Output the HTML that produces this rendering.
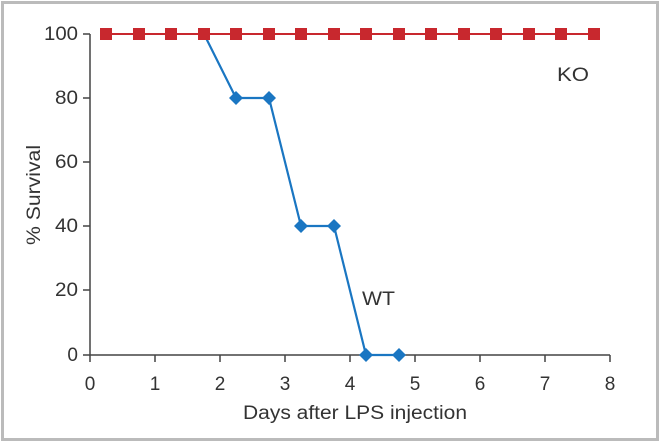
<!DOCTYPE html>
<html><head><meta charset="utf-8"><style>body{margin:0;background:#fff}svg{display:block}text{font-family:"Liberation Sans",Arial,sans-serif;fill:#333}</style></head><body>
<svg width="661" height="444" xmlns="http://www.w3.org/2000/svg">
<rect x="2.5" y="2.5" width="655" height="437" fill="#fff" stroke="#bbb" stroke-width="3"/>
<g stroke="#444" stroke-width="1.5" fill="none">
<path d="M90,34V355H610"/>
<path d="M83,34H90M83,98H90M83,162H90M83,226H90M83,290H90M83,355H90"/>
<path d="M90,355V362M155,355V362M220,355V362M285,355V362M350,355V362M415,355V362M480,355V362M545,355V362M610,355V362"/>
</g>
<g font-size="19" text-anchor="end">
<text x="78" y="40" textLength="34" lengthAdjust="spacingAndGlyphs">100</text><text x="78" y="104" textLength="23" lengthAdjust="spacingAndGlyphs">80</text><text x="78" y="168" textLength="23" lengthAdjust="spacingAndGlyphs">60</text><text x="78" y="232" textLength="23" lengthAdjust="spacingAndGlyphs">40</text><text x="78" y="296" textLength="23" lengthAdjust="spacingAndGlyphs">20</text><text x="78" y="361">0</text>
</g>
<g font-size="19" text-anchor="middle">
<text x="90" y="390">0</text><text x="155" y="390">1</text><text x="220" y="390">2</text><text x="285" y="390">3</text><text x="350" y="390">4</text><text x="415" y="390">5</text><text x="480" y="390">6</text><text x="545" y="390">7</text><text x="610" y="390">8</text>
<text x="355" y="419" textLength="224" lengthAdjust="spacingAndGlyphs">Days after LPS injection</text>
<text transform="translate(40,195) rotate(-90)" textLength="100" lengthAdjust="spacingAndGlyphs">% Survival</text>
</g>
<text x="557" y="81" font-size="19" textLength="32" lengthAdjust="spacingAndGlyphs">KO</text>
<text x="362" y="305" font-size="19" textLength="33" lengthAdjust="spacingAndGlyphs">WT</text>
<polyline points="204,34 236,98 269,98 301,226 334,226 366,355 399,355" fill="none" stroke="#1a76c2" stroke-width="2.2"/>
<g fill="#1a76c2">
<path d="M236,91l7,7l-7,7l-7-7z"/><path d="M269,91l7,7l-7,7l-7-7z"/><path d="M301,219l7,7l-7,7l-7-7z"/><path d="M334,219l7,7l-7,7l-7-7z"/><path d="M366,348l7,7l-7,7l-7-7z"/><path d="M399,348l7,7l-7,7l-7-7z"/>
</g>
<line x1="106" y1="34" x2="594" y2="34" stroke="#c8282e" stroke-width="2"/>
<g fill="#c8282e">
<rect x="100" y="28" width="12" height="12"/><rect x="133" y="28" width="12" height="12"/><rect x="165" y="28" width="12" height="12"/><rect x="198" y="28" width="12" height="12"/><rect x="230" y="28" width="12" height="12"/><rect x="263" y="28" width="12" height="12"/><rect x="295" y="28" width="12" height="12"/><rect x="328" y="28" width="12" height="12"/><rect x="360" y="28" width="12" height="12"/><rect x="393" y="28" width="12" height="12"/><rect x="425" y="28" width="12" height="12"/><rect x="458" y="28" width="12" height="12"/><rect x="490" y="28" width="12" height="12"/><rect x="523" y="28" width="12" height="12"/><rect x="555" y="28" width="12" height="12"/><rect x="588" y="28" width="12" height="12"/>
</g>
</svg>
</body></html>
